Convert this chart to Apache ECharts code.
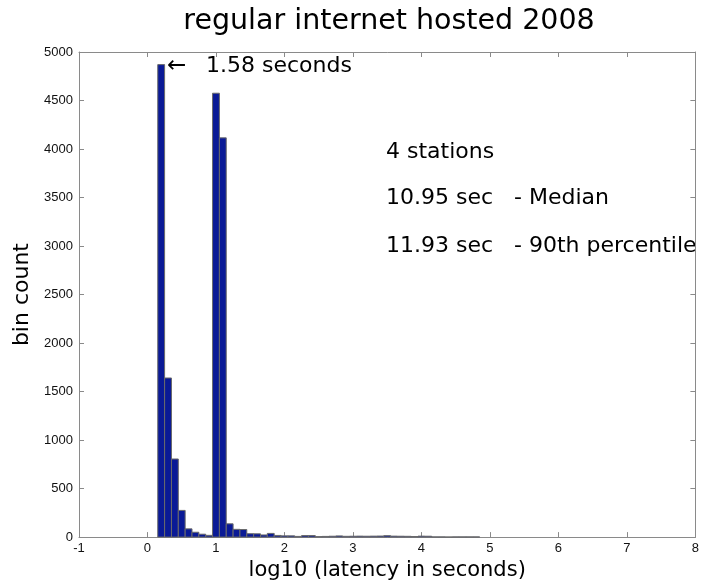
<!DOCTYPE html>
<html>
<head>
<meta charset="utf-8">
<script src="https://cdn.jsdelivr.net/npm/echarts@6/dist/echarts.min.js"></script>
<style>
  html, body { margin: 0; padding: 0; background: #fff; }
  #chart { width: 702px; height: 586px; }
</style>
</head>
<body>
<div id="chart"></div>
<script>
// ---- data ----
const chartTitle = 'regular internet hosted 2008';
const xAxisName = 'log10 (latency in seconds)';
const yAxisName = 'bin count';
const binWidth = 0.1;
const binCenters = [
  0.2, 0.3, 0.4, 0.5, 0.6, 0.7, 0.8, 0.9,
  1.0, 1.1, 1.2, 1.3, 1.4, 1.5, 1.6, 1.7, 1.8, 1.9,
  2.0, 2.1, 2.2, 2.3, 2.4, 2.5, 2.6, 2.7, 2.8, 2.9,
  3.0, 3.1, 3.2, 3.3, 3.4, 3.5, 3.6, 3.7, 3.8, 3.9,
  4.0, 4.1, 4.2, 4.3, 4.4, 4.5, 4.6, 4.7, 4.8
];
const binCounts = [
  4870, 1640, 805, 275, 85, 50, 30, 18,
  4575, 4115, 137, 80, 78, 35, 34, 22, 38, 17,
  13, 13, 7, 16, 16, 5, 7, 9, 12, 8,
  9, 10, 9, 10, 11, 15, 10, 9, 8, 6,
  10, 9, 2, 2, 1, 2, 2, 2, 2
];
const xTicks = { min: -1, max: 8, step: 1 };
const yTicks = { min: 0, max: 5000, step: 500 };
const peakArrow = '\u2190';
const peakNote = '1.58 seconds';
const statLines = ['4 stations', '10.95 sec   - Median', '11.93 sec   - 90th percentile'];

// ---- chart ----
const chart = echarts.init(document.getElementById('chart'));
const frameColor = '#8a8a8a';
const bigFont = 'DejaVu Sans';
const tickFont = 'Liberation Sans';

const baseX = {
  type: 'value', min: xTicks.min, max: xTicks.max, interval: xTicks.step,
  axisLine: { show: true, onZero: false, lineStyle: { color: frameColor, width: 1 } },
  axisTick: { show: true, inside: true, length: 5, lineStyle: { color: frameColor } },
  splitLine: { show: false }
};
const baseY = {
  type: 'value', min: yTicks.min, max: yTicks.max, interval: yTicks.step,
  axisLine: { show: true, onZero: false, lineStyle: { color: frameColor, width: 1 } },
  axisTick: { show: true, inside: true, length: 5, lineStyle: { color: frameColor } },
  splitLine: { show: false }
};
const plain = v => String(v);

const option = {
  backgroundColor: '#ffffff',
  animation: false,
  grid: { left: 79, right: 5, top: 52, bottom: 47, containLabel: false },
  xAxis: [
    Object.assign({}, baseX, {
      position: 'bottom',
      axisLabel: { color: '#111', fontFamily: tickFont, fontSize: 13, margin: 5, formatter: plain },
      name: xAxisName, nameLocation: 'middle', nameGap: 21,
      nameTextStyle: { color: '#000', fontFamily: bigFont, fontSize: 21 }
    }),
    Object.assign({}, baseX, { position: 'top', axisLabel: { show: false } })
  ],
  yAxis: [
    Object.assign({}, baseY, {
      position: 'left',
      axisLabel: { color: '#111', fontFamily: tickFont, fontSize: 13, margin: 6, formatter: plain },
      name: yAxisName, nameLocation: 'middle', nameGap: 46,
      nameTextStyle: { color: '#000', fontFamily: bigFont, fontSize: 22 }
    }),
    Object.assign({}, baseY, { position: 'right', axisLabel: { show: false } })
  ],
  series: [{
    type: 'custom',
    xAxisIndex: 0, yAxisIndex: 0,
    data: binCenters.map((c, i) => [c, binCounts[i]]),
    renderItem: function (params, api) {
      const x = api.value(0), y = api.value(1);
      const p0 = api.coord([x - binWidth / 2, 0]);
      const p1 = api.coord([x + binWidth / 2, y]);
      return {
        type: 'rect',
        shape: { x: p0[0], y: p1[1], width: p1[0] - p0[0], height: p0[1] - p1[1] },
        style: { fill: '#0a1a96', stroke: '#6a6a6a', lineWidth: 1 }
      };
    }
  }],
  graphic: [
    { type: 'text', x: 389, y: 22, style: { text: chartTitle, font: '28.5px "DejaVu Sans"', fill: '#000', textAlign: 'center', textVerticalAlign: 'middle' } },
    { type: 'text', x: 167, y: 66, style: { text: peakArrow, font: '23px "DejaVu Sans"', fill: '#000', textAlign: 'left', textVerticalAlign: 'middle' } },
    { type: 'text', x: 206, y: 66, style: { text: peakNote, font: '22px "DejaVu Sans"', fill: '#000', textAlign: 'left', textVerticalAlign: 'middle' } },
    { type: 'text', x: 386, y: 152, style: { text: statLines[0], font: '22px "DejaVu Sans"', fill: '#000', textAlign: 'left', textVerticalAlign: 'middle' } },
    { type: 'text', x: 386, y: 198, style: { text: statLines[1], font: '22px "DejaVu Sans"', fill: '#000', textAlign: 'left', textVerticalAlign: 'middle' } },
    { type: 'text', x: 386, y: 246, style: { text: statLines[2], font: '22px "DejaVu Sans"', fill: '#000', textAlign: 'left', textVerticalAlign: 'middle' } }
  ]
};
chart.setOption(option);
</script>
</body>
</html>
